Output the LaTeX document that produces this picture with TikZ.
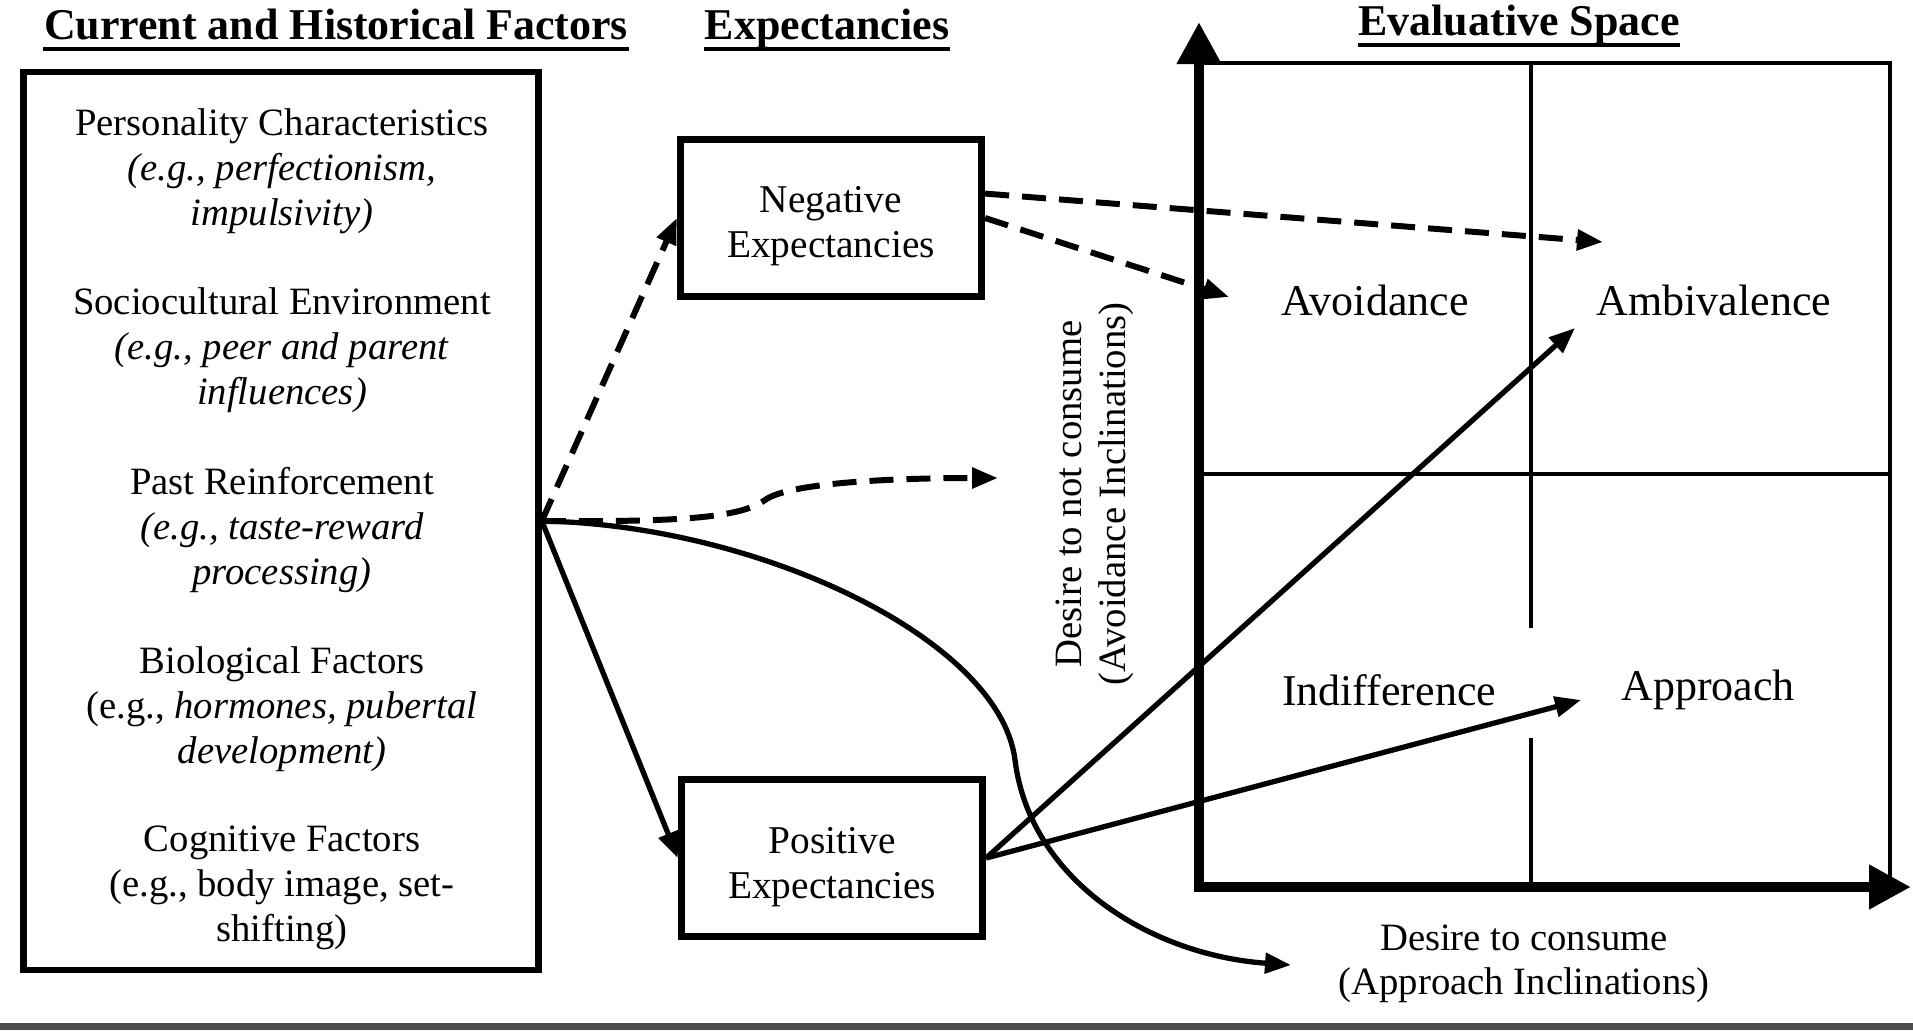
\documentclass[tikz,border=0pt]{standalone}
\usepackage{fontspec}
\setmainfont{Liberation Serif}
\usetikzlibrary{positioning,arrows.meta}

\begin{document}
\begin{tikzpicture}[
            x=0.01cm, y=-0.01cm,
            factorbox/.style={draw, line width=1.8pt, minimum width=5.15cm, minimum height=8.97cm},
            factortext/.style={align=center, font=\fontsize{11}{12.8}\selectfont},
            expbox/.style={draw, line width=2pt, minimum width=3.01cm, minimum height=1.56cm},
            exptext/.style={align=center, font=\fontsize{11.2}{12.6}\selectfont},
            heading/.style={font=\fontsize{12.5}{14}\selectfont\bfseries, inner xsep=0pt, anchor=base},
            headrule/.style={line width=1.1pt},
            quadtext/.style={font=\fontsize{12.5}{14}\selectfont},
            axistext/.style={align=center, font=\fontsize{11}{12.4}\selectfont},
            solidarrow/.style={line width=1.5pt, -{Triangle[length=0.26cm,width=0.2cm]}},
            dasharrow/.style={solidarrow, line width=1.7pt, dash pattern=on 0.24cm off 0.13cm},
            axisarrow/.style={line width=3pt, -{Triangle[length=0.42cm,width=0.42cm]}},
            quadline/.style={line width=0.9pt},
            auto
        ]
            \useasboundingbox (0,0) rectangle (1913,1030);

            % Headings
            \node[heading] (hfactors) at ( 336, 39) {Current and Historical Factors};
            \node[heading] (hexp)     at ( 827, 39) {Expectancies};
            \node[heading] (heval)    at (1519, 35) {Evaluative Space};
            \foreach \h in {hfactors, hexp, heval}
                \draw[headrule] ([yshift=-0.1cm]\h.base west) -- ([yshift=-0.1cm]\h.base east);

            % Factors
            \node[factorbox] (factors) at (281, 521) {};
            \begin{scope}[every node/.style={factortext}]
                \node (pers)  at (282, 171) {Personality Characteristics\\ \textit{(e.g., perfectionism,}\\ \textit{impulsivity)}};
                \node (socio) at (282, 350) {Sociocultural Environment\\ \textit{(e.g., peer and parent}\\ \textit{influences)}};
                \node (past)  at (282, 530) {Past Reinforcement\\ \textit{(e.g., taste-reward}\\ \textit{processing)}};
                \node (bio)   at (282, 709) {Biological Factors\\ (e.g., \textit{hormones, pubertal}\\ \textit{development)}};
                \node (cog)   at (282, 888) {Cognitive Factors\\ (e.g., body image, set-\\ shifting)};
            \end{scope}

            % Expectancies
            \node[expbox] (neg) at (831, 218) {};
            \node[expbox] (pos) at (832, 858) {};
            \node[exptext] (negtext) at (831, 226) {Negative\\ Expectancies};
            \node[exptext] (postext) at (832, 867) {Positive\\ Expectancies};

            % Evaluative space
            \coordinate (origin) at (1199, 887);
            \coordinate (ytip)   at (1199,  22);
            \coordinate (xtip)   at (1911, 887);
            \draw[quadline] (1199, 63) rectangle (1890, 887);
            \draw[quadline] (1199, 474) -- (1890, 474);
            \draw[quadline] (1531, 63) -- (1531, 628);
            \draw[quadline] (1531, 738) -- (1531, 887);
            \draw[axisarrow] ([yshift=-1.5pt]origin) -- (ytip);
            \draw[axisarrow] ([xshift=-1.5pt]origin) -- (xtip);

            \node[quadtext] (avoid)  at (1375, 300) {Avoidance};
            \node[quadtext] (ambiv)  at (1714, 300) {Ambivalence};
            \node[quadtext] (indiff) at (1389, 690) {Indifference};
            \node[quadtext] (appr)   at (1708, 690) {Approach};

            \node[axistext, rotate=90] (ylab) at (1095, 494) {Desire to not consume\\ (Avoidance Inclinations)};
            \node[axistext] (xlab) at (1524, 964) {Desire to consume\\ (Approach Inclinations)};

            % Free ends
            \coordinate (dashend)  at ( 998, 478);
            \coordinate (curveend) at (1291, 965);
            \coordinate (ambivend) at (1603, 242);
            \coordinate (avoidend) at (1229, 297);
            \coordinate (ambivhit) at (1575, 328);
            \coordinate (apprhit)  at (1581, 700);

            % Connectors
            \draw[dasharrow] (factors.east) -- (neg.west);
            \draw[dasharrow] (factors.east) .. controls (680, 522) and (740, 518) .. (765, 500)
                .. controls (790, 482) and (900, 478) .. (dashend);
            \draw[solidarrow] (factors.east) -- (pos.west);
            \draw[solidarrow] (factors.east) .. controls (760, 525) and (1000, 640) .. (1015, 760)
                .. controls (1030, 880) and (1150, 955) .. (curveend);
            \draw[dasharrow] (neg.9.5) -- (ambivend);
            \draw[dasharrow] (neg.east) -- (avoidend);
            \draw[solidarrow] (pos.east) -- (ambivhit);
            \draw[solidarrow] (pos.east) -- (apprhit);

            % Rule at the foot
            \draw[line width=2pt, gray!60!black] (0, 1026) -- (1913, 1026);
        \end{tikzpicture}
\end{document}
